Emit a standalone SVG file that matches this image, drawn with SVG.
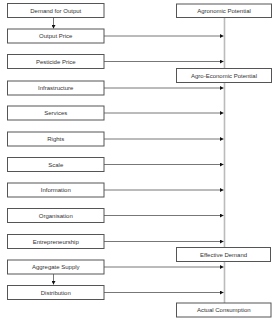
<svg xmlns="http://www.w3.org/2000/svg" width="279" height="320" viewBox="0 0 279 320">
<style>
.box{fill:#fff;stroke:#555;stroke-width:1}
.t{font-family:"Liberation Sans",Arial,sans-serif;font-size:6px;fill:#333;text-anchor:middle;dominant-baseline:central}
.c{stroke:#777;stroke-width:1;fill:none}
.v{stroke:#bbb;stroke-width:1.6;fill:none}
</style>
<defs>
<marker id="ah" markerWidth="4" markerHeight="4" refX="3.5" refY="2" orient="auto" markerUnits="userSpaceOnUse">
<path d="M0,0 L3.5,2 L0,4 Z" fill="#111"/>
</marker>
</defs>
<rect width="279" height="320" fill="#fff"/>
<g id="connectors">
<line class="v" x1="224.5" y1="18" x2="224.5" y2="303"/>
<line class="c" x1="53.5" y1="18" x2="53.5" y2="28.5" marker-end="url(#ah)"/>
<line class="c" x1="53.5" y1="274" x2="53.5" y2="284.5" marker-end="url(#ah)"/>
<line class="c" x1="104" y1="36" x2="223.5" y2="36" marker-end="url(#ah)"/>
<line class="c" x1="104" y1="61.5" x2="223.5" y2="61.5" marker-end="url(#ah)"/>
<line class="c" x1="104" y1="88" x2="223.5" y2="88" marker-end="url(#ah)"/>
<line class="c" x1="104" y1="113" x2="223.5" y2="113" marker-end="url(#ah)"/>
<line class="c" x1="104" y1="139" x2="223.5" y2="139" marker-end="url(#ah)"/>
<line class="c" x1="104" y1="164.5" x2="223.5" y2="164.5" marker-end="url(#ah)"/>
<line class="c" x1="104" y1="190" x2="223.5" y2="190" marker-end="url(#ah)"/>
<line class="c" x1="104" y1="215.5" x2="223.5" y2="215.5" marker-end="url(#ah)"/>
<line class="c" x1="104" y1="241.5" x2="223.5" y2="241.5" marker-end="url(#ah)"/>
<line class="c" x1="104" y1="267" x2="223.5" y2="267" marker-end="url(#ah)"/>
<line class="c" x1="104" y1="292.5" x2="223.5" y2="292.5" marker-end="url(#ah)"/>
</g>
<g id="n-demand"><rect class="box" x="7.5" y="3.5" width="96.5" height="14"/><text class="t" x="55.75" y="10.5">Demand for Output</text></g>
<g id="n-output-price"><rect class="box" x="7.5" y="29" width="96.5" height="14"/><text class="t" x="55.75" y="36">Output Price</text></g>
<g id="n-pesticide"><rect class="box" x="7.5" y="54.5" width="96.5" height="14"/><text class="t" x="55.75" y="61.5">Pesticide Price</text></g>
<g id="n-infrastructure"><rect class="box" x="7.5" y="81" width="96.5" height="14"/><text class="t" x="55.75" y="88">Infrastructure</text></g>
<g id="n-services"><rect class="box" x="7.5" y="106" width="96.5" height="14"/><text class="t" x="55.75" y="113">Services</text></g>
<g id="n-rights"><rect class="box" x="7.5" y="132" width="96.5" height="14"/><text class="t" x="55.75" y="139">Rights</text></g>
<g id="n-scale"><rect class="box" x="7.5" y="157.5" width="96.5" height="14"/><text class="t" x="55.75" y="164.5">Scale</text></g>
<g id="n-information"><rect class="box" x="7.5" y="183" width="96.5" height="14"/><text class="t" x="55.75" y="190">Information</text></g>
<g id="n-organisation"><rect class="box" x="7.5" y="208.5" width="96.5" height="14"/><text class="t" x="55.75" y="215.5">Organisation</text></g>
<g id="n-entrepreneurship"><rect class="box" x="7.5" y="234.5" width="96.5" height="14"/><text class="t" x="55.75" y="241.5">Entrepreneurship</text></g>
<g id="n-aggregate"><rect class="box" x="7.5" y="260" width="96.5" height="14"/><text class="t" x="55.75" y="267">Aggregate Supply</text></g>
<g id="n-distribution"><rect class="box" x="7.5" y="285.5" width="96.5" height="14"/><text class="t" x="55.75" y="292.5">Distribution</text></g>
<g id="n-agronomic"><rect class="box" x="176.5" y="4" width="95" height="13.5"/><text class="t" x="224" y="10.75">Agronomic Potential</text></g>
<g id="n-agro-economic"><rect class="box" x="176.5" y="68.5" width="95" height="14"/><text class="t" x="224" y="75.5">Agro-Economic Potential</text></g>
<g id="n-effective"><rect class="box" x="176.5" y="247.5" width="94" height="14"/><text class="t" x="223.5" y="254.5">Effective Demand</text></g>
<g id="n-actual"><rect class="box" x="176.5" y="303" width="94.5" height="14"/><text class="t" x="223.75" y="310">Actual Consumption</text></g>
</svg>
